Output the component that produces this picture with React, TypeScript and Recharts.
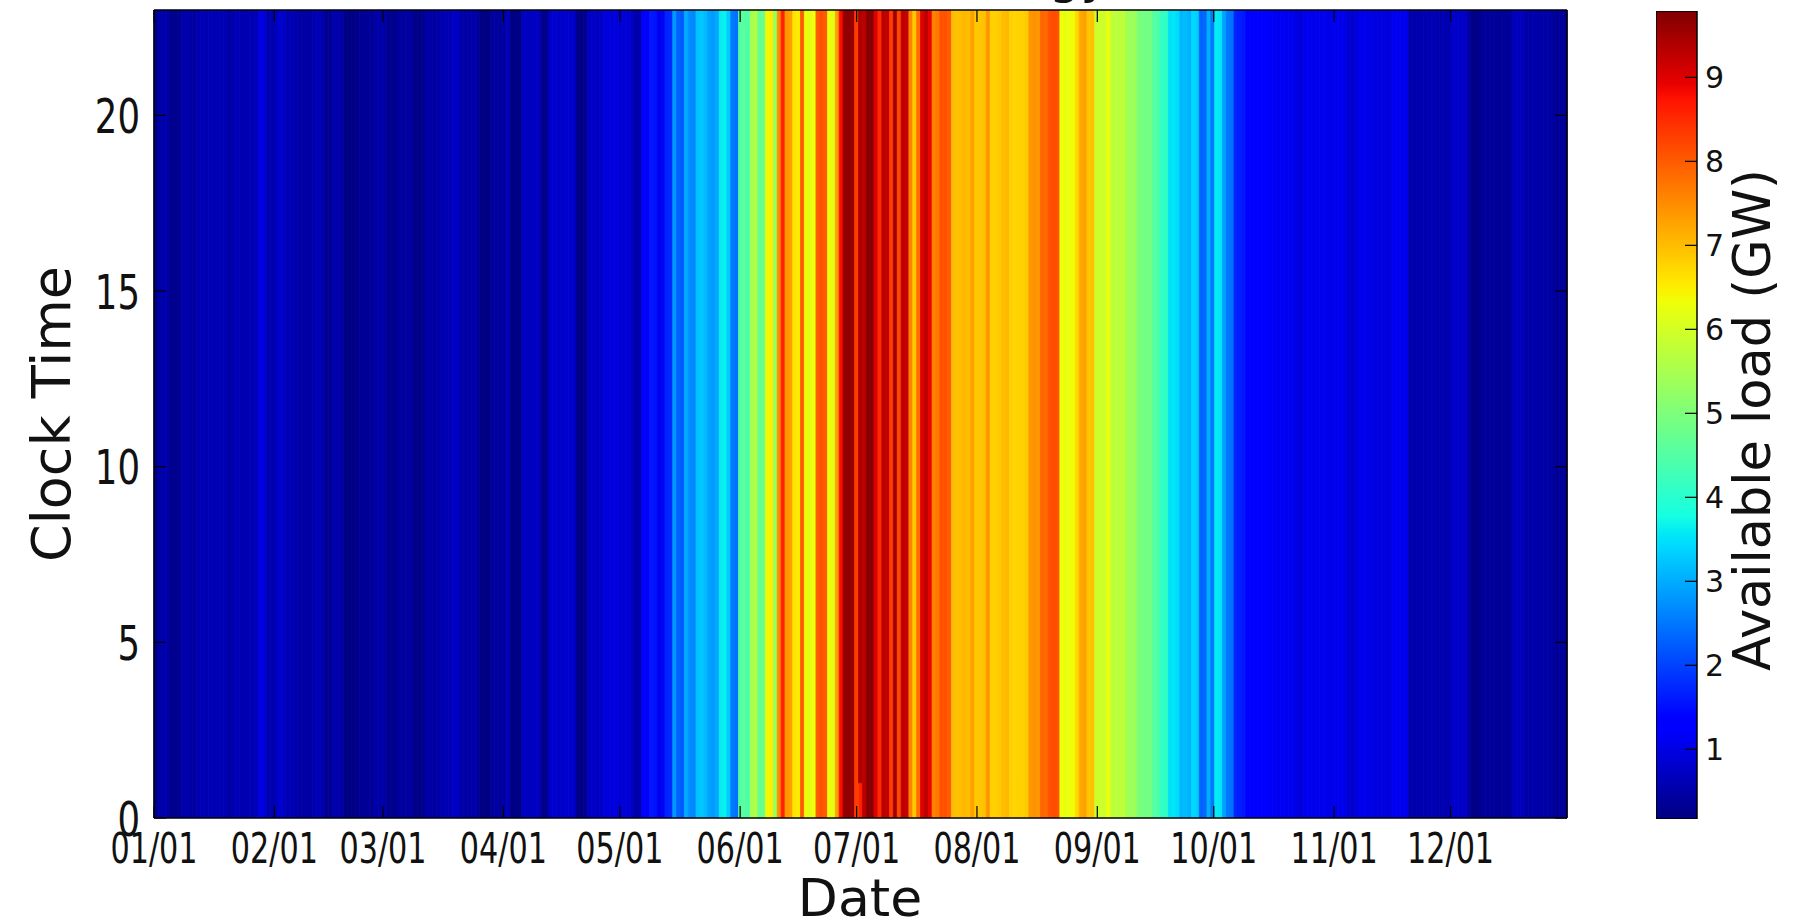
import React from 'react';
import { BarChart, Bar, XAxis, YAxis, Cell } from 'recharts';

// Daily available load (GW), one value per day
const janLoad = [0.2, 0.52, 0.52, 0.54, 0.28, 0.28, 0.32, 0.52, 0.54, 0.5, 0.42, 0.6, 0.62, 0.58, 0.62, 0.6, 0.64, 0.62, 0.65, 0.44, 0.58, 0.62, 0.6, 0.57, 0.62, 0.6, 0.64, 0.98, 0.92, 0.6, 0.58];
const febLoad = [0.62, 0.84, 0.8, 0.6, 0.62, 0.58, 0.48, 0.47, 0.5, 0.46, 0.6, 0.62, 0.58, 0.32, 0.31, 0.54, 0.56, 0.52, 0.22, 0.2, 0.23, 0.22, 0.38, 0.36, 0.4, 0.36, 0.52, 0.5];
const marLoad = [0.52, 0.31, 0.32, 0.29, 0.44, 0.46, 0.42, 0.44, 0.26, 0.24, 0.28, 0.48, 0.5, 0.46, 0.49, 0.6, 0.61, 0.59, 0.76, 0.74, 0.5, 0.48, 0.52, 0.49, 0.5, 0.2, 0.22, 0.19, 0.42, 0.44, 0.4];
const aprLoad = [0.46, 0.68, 0.2, 0.22, 0.2, 0.72, 0.74, 0.7, 0.74, 0.72, 0.24, 0.28, 0.8, 0.83, 0.79, 0.81, 0.83, 0.8, 0.82, 0.24, 0.22, 0.27, 0.75, 0.77, 0.73, 0.75, 0.92, 0.95, 0.93, 0.97];
const mayLoad = [0.85, 0.9, 0.88, 0.8, 0.5, 0.55, 1.25, 1.3, 1.6, 1.55, 1.1, 1.15, 1.7, 1.75, 2.8, 2.3, 2.2, 3.0, 2.7, 2.65, 3.2, 3.25, 3.15, 2.9, 2.85, 2.95, 3.6, 3.65, 3.3, 2.5, 2.45];
const junLoad = [4.5, 4.6, 4.4, 5.5, 5.6, 4.7, 4.8, 6.4, 6.5, 5.3, 7.5, 8.6, 7.4, 7.3, 6.6, 6.5, 8.0, 6.3, 6.2, 6.3, 8.0, 8.1, 8.0, 6.3, 6.2, 7.3, 8.8, 9.6, 9.65, 9.6];
const julLoad = [8.3, 9.4, 9.3, 9.7, 9.75, 9.0, 8.5, 9.3, 9.25, 8.3, 9.5, 8.2, 9.3, 9.2, 7.6, 6.9, 7.8, 9.0, 9.3, 8.9, 7.6, 7.7, 8.1, 8.1, 8.0, 7.0, 6.95, 7.0, 7.05, 7.0, 7.3];
const augLoad = [6.9, 6.9, 6.95, 7.4, 6.8, 6.8, 6.85, 7.0, 7.05, 6.8, 6.75, 6.8, 6.8, 6.85, 7.4, 7.45, 7.4, 7.9, 7.85, 8.1, 8.15, 8.1, 6.3, 6.25, 6.3, 6.35, 6.7, 7.2, 7.3, 6.9, 6.95];
const sepLoad = [5.9, 5.95, 5.9, 6.3, 5.8, 5.75, 5.7, 5.8, 5.4, 5.35, 5.4, 4.9, 4.95, 4.85, 4.9, 4.5, 4.45, 4.1, 4.15, 3.5, 3.55, 3.45, 3.1, 3.15, 3.05, 3.4, 3.35, 2.3, 2.35, 3.0];
const octLoad = [2.5, 3.6, 3.55, 2.9, 2.5, 2.45, 1.7, 1.65, 1.6, 1.3, 1.28, 1.3, 1.25, 1.3, 1.27, 1.25, 1.12, 1.1, 1.15, 1.1, 1.12, 1.08, 0.98, 0.95, 1.1, 1.12, 1.05, 1.1, 1.08, 1.12, 1.0];
const novLoad = [1.1, 1.06, 1.1, 1.05, 0.88, 0.85, 0.9, 1.05, 1.08, 1.02, 1.06, 0.98, 0.96, 1.0, 0.95, 0.98, 1.1, 1.12, 1.08, 1.1, 0.55, 0.52, 0.58, 0.55, 0.6, 0.58, 0.62, 0.6, 0.56, 0.6];
const decLoad = [0.58, 0.77, 0.8, 0.76, 0.78, 0.6, 0.25, 0.22, 0.28, 0.4, 0.38, 0.42, 0.4, 0.36, 0.4, 0.38, 0.42, 0.7, 0.68, 0.7, 0.52, 0.5, 0.55, 0.52, 0.5, 0.53, 0.5, 0.4, 0.38, 0.4, 0.36];

// Hour-0 cells that differ from the rest of their day
const hour0Days = [182];
const hour0Load = [8.6];

const monthTickDays = [0, 31, 59, 90, 120, 151, 181, 212, 243, 273, 304, 334];
const monthTickLabels = ['01/01', '02/01', '03/01', '04/01', '05/01', '06/01', '07/01', '08/01', '09/01', '10/01', '11/01', '12/01'];
const clockTicks = [0, 5, 10, 15, 20];
const colorbarTicks = [1, 2, 3, 4, 5, 6, 7, 8, 9];

const DAYS_IN_YEAR = 365;
const CLOCK_MAX = 23;
const FIRST_HOUR_SPAN = 1;
const LOAD_MIN = 0.17;
const LOAD_MAX = 9.79;

const FONT = 'DejaVu Sans, Verdana, sans-serif';

const dailyLoad = [
  ...janLoad, ...febLoad, ...marLoad, ...aprLoad, ...mayLoad, ...junLoad,
  ...julLoad, ...augLoad, ...sepLoad, ...octLoad, ...novLoad, ...decLoad,
];

// days whose first hour differs get a separate one-hour cell at the bottom
const rows = dailyLoad.map((load, day) => {
  const k = hour0Days.indexOf(day);
  const split = k >= 0;
  return {
    day,
    firstHour: split ? FIRST_HOUR_SPAN : 0,
    otherHours: split ? CLOCK_MAX - FIRST_HOUR_SPAN : CLOCK_MAX,
    load,
    load0: split ? hour0Load[k] : load,
  };
});

const colorbarData = [{ name: 'load', range: [LOAD_MIN, LOAD_MAX] }];

// matplotlib "jet" colormap
const JET_R: number[][] = [[0, 0], [0.35, 0], [0.66, 1], [0.89, 1], [1, 0.5]];
const JET_G: number[][] = [[0, 0], [0.125, 0], [0.375, 1], [0.64, 1], [0.91, 0], [1, 0]];
const JET_B: number[][] = [[0, 0.5], [0.11, 1], [0.34, 1], [0.65, 0], [1, 0]];
function interp(pts: number[][], t: number) {
  for (let i = 1; i < pts.length; i++) {
    if (t <= pts[i][0]) {
      const [x0, y0] = pts[i - 1];
      const [x1, y1] = pts[i];
      return y0 + ((t - x0) / (x1 - x0)) * (y1 - y0);
    }
  }
  return pts[pts.length - 1][1];
}
function jetT(t: number) {
  const c = (p: number[][]) => Math.round(255 * interp(p, t));
  return `rgb(${c(JET_R)},${c(JET_G)},${c(JET_B)})`;
}
function jet(v: number) {
  const t = Math.max(0, Math.min(1, (v - LOAD_MIN) / (LOAD_MAX - LOAD_MIN)));
  return jetT(t);
}
const jetStops = [0, 0.11, 0.125, 0.34, 0.35, 0.375, 0.64, 0.65, 0.66, 0.89, 0.91, 1];

const EmptyTick = () => <g />;

const XTick = (props: any) => {
  const { x, payload } = props;
  const i = monthTickDays.indexOf(payload.value);
  return (
    <text
      transform={`translate(${x},863) scale(0.72,1)`}
      textAnchor="middle"
      fontSize={42}
      fontFamily={FONT}
      fill="#111"
    >
      {i >= 0 ? monthTickLabels[i] : ''}
    </text>
  );
};

const YTick = (props: any) => {
  const { y, payload } = props;
  return (
    <text
      transform={`translate(140,${y + 17.5}) scale(0.74,1)`}
      textAnchor="end"
      fontSize={48}
      fontFamily={FONT}
      fill="#111"
    >
      {payload.value}
    </text>
  );
};

const CbTick = (props: any) => {
  const { y, payload } = props;
  return (
    <text x={49} y={y + 11} textAnchor="start" fontSize={30} fontFamily={FONT} fill="#111">
      {payload.value}
    </text>
  );
};

const DateLabel = () => (
  <text x={860} y={916} textAnchor="middle" fontSize={52} fontFamily={FONT} fill="#111">
    Date
  </text>
);

const ClockLabel = () => (
  <text transform="translate(70,414) rotate(-90)" textAnchor="middle" fontSize={54} fontFamily={FONT} fill="#111">
    Clock Time
  </text>
);

const TitleLabel = () => (
  <text x={1110} y={-7} textAnchor="end" fontSize={50} fontFamily={FONT} fill="#111">
    Available Energy
  </text>
);

const CbLabel = () => (
  <text transform="translate(114,420) rotate(-90)" textAnchor="middle" fontSize={51} fontFamily={FONT} fill="#111">
    Available load (GW)
  </text>
);

const frame = { stroke: '#000', strokeWidth: 1.5 };
const tickLn = { stroke: '#000', strokeWidth: 1.2 };

export default function App() {
  return (
    <div style={{ position: 'absolute', left: 0, top: 0, width: 1799, height: 920, background: '#fff' }}>
      <div style={{ position: 'absolute', left: 0, top: 0 }}>
        <BarChart
          width={1799}
          height={920}
          data={rows}
          margin={{ top: 9, right: 231, bottom: 0, left: 0 }}
          barCategoryGap={0}
          barGap={0}
        >
          <Bar xAxisId="cat" yAxisId="left" dataKey="firstHour" stackId="s" isAnimationActive={false}>
            {rows.map((r) => (
              <Cell key={`a${r.day}`} fill={jet(r.load0)} stroke={jet(r.load0)} strokeWidth={0.8} />
            ))}
          </Bar>
          <Bar xAxisId="cat" yAxisId="left" dataKey="otherHours" stackId="s" isAnimationActive={false}>
            {rows.map((r) => (
              <Cell key={`b${r.day}`} fill={jet(r.load)} stroke={jet(r.load)} strokeWidth={0.8} />
            ))}
          </Bar>
          <XAxis
            xAxisId="num"
            type="number"
            domain={[0, DAYS_IN_YEAR]}
            allowDataOverflow
            ticks={monthTickDays}
            interval={0}
            height={102}
            tickSize={-12}
            tickMargin={57}
            tick={<XTick />}
            axisLine={frame}
            tickLine={tickLn}
            label={<DateLabel />}
          />
          <XAxis xAxisId="cat" dataKey="day" type="category" hide height={0} />
          <XAxis
            xAxisId="top"
            orientation="top"
            type="number"
            domain={[0, DAYS_IN_YEAR]}
            allowDataOverflow
            ticks={monthTickDays}
            interval={0}
            height={1}
            tickSize={-12}
            tick={<EmptyTick />}
            axisLine={frame}
            tickLine={tickLn}
            label={<TitleLabel />}
          />
          <YAxis
            yAxisId="left"
            type="number"
            domain={[0, CLOCK_MAX]}
            allowDataOverflow
            ticks={clockTicks}
            interval={0}
            width={154}
            tickSize={-12}
            tickMargin={26}
            tick={<YTick />}
            axisLine={frame}
            tickLine={tickLn}
            label={<ClockLabel />}
          />
          <YAxis
            yAxisId="right"
            orientation="right"
            type="number"
            domain={[0, CLOCK_MAX]}
            allowDataOverflow
            ticks={clockTicks}
            interval={0}
            width={1}
            tickSize={-12}
            tick={<EmptyTick />}
            axisLine={frame}
            tickLine={tickLn}
          />
        </BarChart>
      </div>
      <div style={{ position: 'absolute', left: 1656, top: 0 }}>
        <BarChart
          width={143}
          height={920}
          data={colorbarData}
          margin={{ top: 11, right: 101, bottom: 101, left: 0 }}
          barCategoryGap={0}
        >
          <defs>
            <linearGradient id="jetGrad" x1="0" y1="1" x2="0" y2="0">
              {jetStops.map((t) => (
                <stop key={t} offset={t} stopColor={jetT(t)} />
              ))}
            </linearGradient>
          </defs>
          <Bar dataKey="range" fill="url(#jetGrad)" stroke="#000" strokeWidth={1.5} isAnimationActive={false} />
          <XAxis dataKey="name" hide height={0} />
          <YAxis
            orientation="right"
            type="number"
            domain={[LOAD_MIN, LOAD_MAX]}
            allowDataOverflow
            ticks={colorbarTicks}
            interval={0}
            width={1}
            tickSize={-12}
            tickMargin={20}
            tick={<CbTick />}
            axisLine={false}
            tickLine={tickLn}
            label={<CbLabel />}
          />
        </BarChart>
      </div>
    </div>
  );
}
